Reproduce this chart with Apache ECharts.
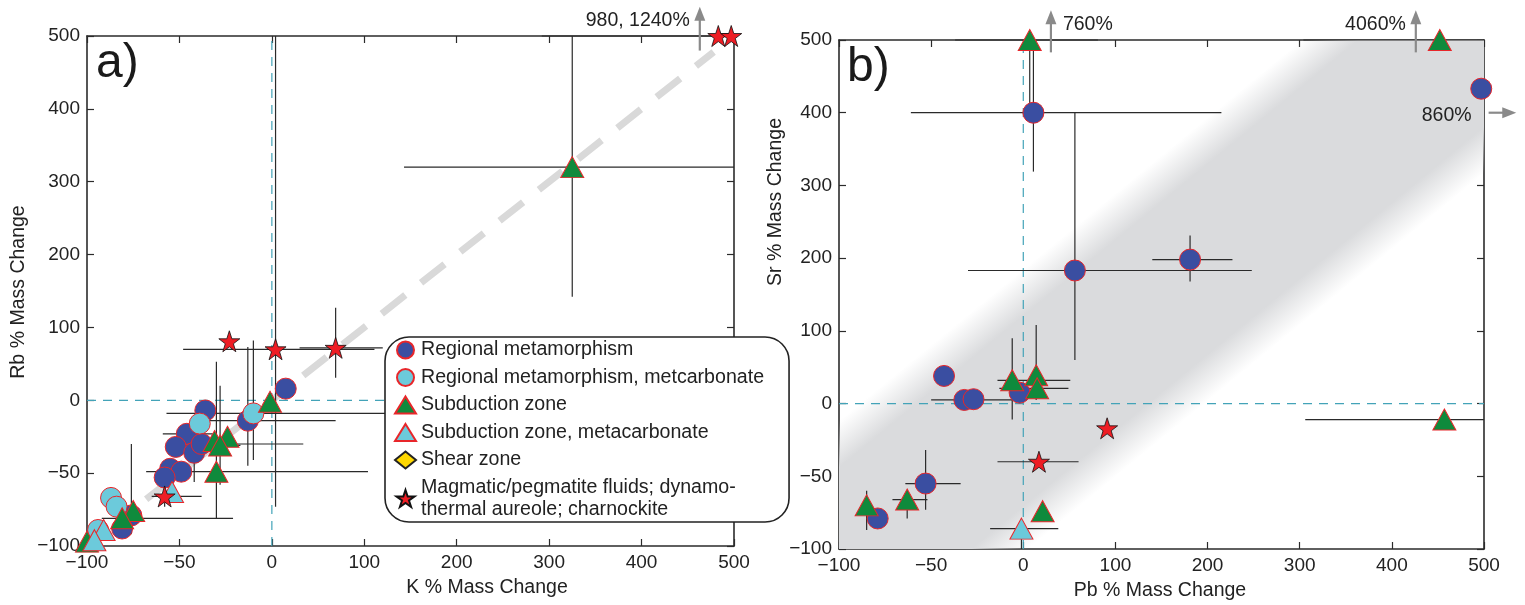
<!DOCTYPE html>
<html><head><meta charset="utf-8">
<script src="https://cdn.jsdelivr.net/npm/echarts@6/dist/echarts.min.js"></script>
<style>html,body{margin:0;padding:0;background:#fff}#c{width:1525px;height:605px}</style>
</head><body><div id="c"></div>
<script>
// ---------------- DATA ----------------
// Tick values (real % change); negative side is drawn at double scale
const tickValues = [-100, -50, 0, 100, 200, 300, 400, 500];
const seriesNames = ['Regional metamorphism', 'Regional metamorphism, metcarbonate', 'Subduction zone',
  'Subduction zone, metacarbonate', 'Shear zone', 'Magmatic/pegmatite fluids; dynamo-\nthermal aureole; charnockite'];

// Panel a: K % (x) vs Rb % (y)
const aRegional = [[15,16],[-36,-7],[-46,-23],[-52,-32],[-42,-36],[-38,-30],[-55,-47],[-49,-49],[-58,-53],[-13,-14],[-76,-79],[-81,-88]];
const aRegionalCarb = [[-10,-9],[-39,-16],[-87,-67],[-84,-73],[-94,-89]];
const aSubduction = [[-1,-1],[-24,-25],[-31,-28],[-28,-31],[-30,-49],[-75,-76],[-81,-81],[-100,-97],[325,320]];
const aSubductionCarb = [[-54,-63],[-91,-89],[-96,-96]];
const aShear = [];
const aMagmatic = [[-23,81],[4,70],[69,72],[-58,-66],[483,500],[497,500]];
// error bars: [x, y, xLow, xHigh, yLow, yHigh]
const aErr = [
  [4,70,-48,111,-73,600],[69,72,30,120,31,127],[-58,-66,-65,-38,-73,-61],[490,500,292,600,null,null],
  [325,320,143,600,142,600],[-13,-14,-34,69,-45,73],[-10,-9,-57,150,-41,82],[-46,-23,-59,-32,null,null],
  [-42,-36,null,null,-56,-20],[-38,-30,-54,34,null,null],[-28,-31,-50,-17,-58,20],[-30,-49,-68,104,-81,53],
  [-81,-81,-92,-21,null,null],[-76,-79,null,null,-92,-30]
];
const aTrend = [[-68,-68],[478,478]];

// Panel b: Pb % (x) vs Sr % (y)
const bRegional = [[11,400],[56,183],[181,198],[497,433],[-43,38],[-32,5],[-27,6],[-2,15],[-53,-55],[-79,-79]];
const bRegionalCarb = [];
const bSubduction = [[7,500],[452,500],[-6,32],[14,39],[15,21],[-85,-70],[-63,-66],[21,-74],[457,-11]];
const bSubductionCarb = [[-1,-86]];
const bShear = [];
const bMagmatic = [[91,-17],[17,-40]];
const bErr = [
  [11,400,-61,215,319,500],[56,183,-30,248,60,401],[181,198,140,227,168,231],[7,500,-37,81,400,600],
  [452,500,304,600,null,null],[457,-11,306,600,null,null],[-1,-86,-18,38,-100,-80],[17,-40,-14,60,null,null],
  [-53,-55,-64,-34,-73,-32],[-6,32,-14,51,-11,90],[14,39,null,null,5,108],[15,21,-13,49,null,null],
  [-30,5,-50,-5,null,null],[-85,-70,null,null,-87,-60],[-63,-66,-71,-52,-79,-60]
];
// shaded band: two parallel edges, [x, y] end points
const bBandUpper = [[-100,-28],[333,500]];
const bBandLower = [[-13,-100],[500,362]];

// off-scale annotations: [x, y0, y1, label] vertical arrows / [y, x0, x1, label] horizontal
const aArrowUp = [[463,480,540,'980, 1240%']];
const bArrowUp = [[30,483,541,'760%'],[426,483,541,'4060%']];
const bArrowRight = [[400,505,535,'860%']];

// ---------------- CHART ----------------
const T = v => v < 0 ? 2 * v : v;                // piecewise scale
const cT = v => T(Math.max(-100, Math.min(500, v)));
const P = a => a.map(p => [T(p[0]), T(p[1])]);
const fmt = v => { const r = v < 0 ? v / 2 : v; return r < 0 ? '\u2212' + Math.abs(r) : String(r); };
const FONT = 'Liberation Sans, Arial, Helvetica, sans-serif';
const STAR = 'path://M50,0 L61.8,35.1 L98.9,35.1 L68.9,56.8 L80.3,91.9 L50,70.2 L19.7,91.9 L31.1,56.8 L1.1,35.1 L38.2,35.1 Z';
const RED = '#e8262a';

const styles = [
  {symbol:'circle', symbolSize:21, itemStyle:{color:'#3a4ea1', borderColor:RED, borderWidth:1, opacity:1}},
  {symbol:'circle', symbolSize:21, itemStyle:{color:'#6ccadb', borderColor:RED, borderWidth:1, opacity:1}},
  {symbol:'triangle', symbolSize:[23,21], itemStyle:{color:'#0f8a3c', borderColor:RED, borderWidth:1, opacity:1}},
  {symbol:'triangle', symbolSize:[23,21], itemStyle:{color:'#6ccadb', borderColor:RED, borderWidth:1, opacity:1}},
  {symbol:'diamond', symbolSize:[18,24], itemStyle:{color:'#ffd800', borderColor:'#222', borderWidth:1, opacity:1}},
  {symbol:STAR, symbolSize:21, itemStyle:{color:'#ee1d24', borderColor:'#111', borderWidth:0.8, opacity:1}}
];

const grids = [
  {left:87, top:36, width:647, height:510},
  {left:839, top:40, width:645, height:509}
];
function ax(gi, pos, show) {
  return {type:'value', gridIndex:gi, position:pos, min:-200, max:500, interval:100,
    axisLine:{show:true, onZero:false, lineStyle:{color:'#2b2b2b', width:1.6}},
    axisTick:{show:true, inside:true, length:7, lineStyle:{color:'#2b2b2b', width:1.2}},
    axisLabel:{show:show, formatter:fmt, color:'#222', fontSize:19, fontFamily:FONT, margin:7},
    splitLine:{show:false}};
}

function errSeries(err, axi) {
  return {type:'custom', xAxisIndex:axi, yAxisIndex:axi, z:3, silent:true,
    data: err.map(e => [T(e[0]), T(e[1])]),
    renderItem: (params, api) => {
      const e = err[params.dataIndex], ch = [];
      const st = {stroke:'#2a2a2a', lineWidth:1.2};
      if (e[2] != null) {
        const p1 = api.coord([cT(e[2]), T(e[1])]), p2 = api.coord([cT(e[3]), T(e[1])]);
        ch.push({type:'line', shape:{x1:p1[0], y1:p1[1], x2:p2[0], y2:p2[1]}, style:st});
      }
      if (e[4] != null) {
        const p1 = api.coord([T(e[0]), cT(e[4])]), p2 = api.coord([T(e[0]), cT(e[5])]);
        ch.push({type:'line', shape:{x1:p1[0], y1:p1[1], x2:p2[0], y2:p2[1]}, style:st});
      }
      return {type:'group', children:ch};
    }};
}

function scatterSet(datas, axi) {
  return datas.map((d, i) => Object.assign({type:'scatter', name:seriesNames[i], xAxisIndex:axi, yAxisIndex:axi,
    data:P(d), clip:false, z:5, emphasis:{disabled:true}}, styles[i]));
}

const zeroLines = axi => ({type:'custom', xAxisIndex:axi, yAxisIndex:axi, z:2, silent:true, data:[[0,0]],
  renderItem:(params, api) => {
    const st = {stroke:'#43a3b8', lineWidth:1.2, lineDash:[9,7]};
    const a = api.coord([0,-200]), b = api.coord([0,500]), c = api.coord([-200,0]), d = api.coord([500,0]);
    return {type:'group', children:[
      {type:'line', shape:{x1:a[0], y1:a[1], x2:b[0], y2:b[1]}, style:st},
      {type:'line', shape:{x1:c[0], y1:c[1], x2:d[0], y2:d[1]}, style:st}]};
  }});

const bandSeries = {type:'custom', xAxisIndex:2, yAxisIndex:2, z:1, silent:true,
  data:[[0,0]],
  renderItem:(params, api) => {
    const u1 = api.coord(P(bBandUpper)[0]), u2 = api.coord(P(bBandUpper)[1]);
    const l1 = api.coord(P(bBandLower)[0]);
    let dx = u2[0]-u1[0], dy = u2[1]-u1[1]; const L = Math.hypot(dx, dy); dx/=L; dy/=L;
    let nx = -dy, ny = dx;
    if (nx*(l1[0]-u1[0]) + ny*(l1[1]-u1[1]) < 0) { nx=-nx; ny=-ny; }
    const w = nx*(l1[0]-u1[0]) + ny*(l1[1]-u1[1]);
    const s = 36;
    const x0 = u1[0]-nx*s/2, y0 = u1[1]-ny*s/2, x2 = u1[0]+nx*(w+s/2), y2 = u1[1]+ny*(w+s/2);
    const tot = w + s, g = 'rgba(218,219,221,1)', z = 'rgba(218,219,221,0)';
    const c0 = api.coord([-200,-200]), c1 = api.coord([500,500]);
    return {type:'rect', shape:{x:c0[0], y:c1[1], width:c1[0]-c0[0], height:c0[1]-c1[1]},
      style:{fill:{type:'linear', global:true, x:x0, y:y0, x2:x2, y2:y2,
        colorStops:[{offset:0,color:z},{offset:s/tot,color:g},{offset:1-s/tot,color:g},{offset:1,color:z}]}}};
  }};

const option = {
  animation:false,
  backgroundColor:'#fff',
  grid: grids,
  xAxis:[ax(0,'bottom',true), ax(0,'top',false), ax(1,'bottom',true), ax(1,'top',false)],
  yAxis:[ax(0,'left',true), ax(0,'right',false), ax(1,'left',true), ax(1,'right',false)],
  legend:{show:true, orient:'vertical', left:385, top:337, data:seriesNames, z:50,
    backgroundColor:'#fff', borderColor:'#222', borderWidth:1.6, borderRadius:24,
    padding:[2,25,1.5,9], itemWidth:21, itemHeight:17, itemGap:5.5, selectedMode:false,
    textStyle:{fontSize:19.6, fontFamily:FONT, color:'#222', lineHeight:22}},
  series: [
    bandSeries,
    zeroLines(0), zeroLines(2),
    {type:'line', xAxisIndex:0, yAxisIndex:0, data:P(aTrend), symbol:'none', z:1, silent:true,
      lineStyle:{color:'#d9d9d9', width:7, type:[30,20]}},
    errSeries(aErr, 0), errSeries(bErr, 2),
    ...scatterSet([aRegional, aRegionalCarb, aSubduction, aSubductionCarb, aShear, aMagmatic], 0),
    ...scatterSet([bRegional, bRegionalCarb, bSubduction, bSubductionCarb, bShear, bMagmatic], 2)
  ],
  graphic: [
    {type:'text', z:100, left:96, top:40, style:{text:'a)', font:'48px ' + FONT, fill:'#1a1a1a'}},
    {type:'text', z:100, left:847, top:44, style:{text:'b)', font:'48px ' + FONT, fill:'#1a1a1a'}},
    {type:'text', z:100, x:487, y:588, style:{text:'K % Mass Change', font:'19.5px ' + FONT, fill:'#222', align:'center', verticalAlign:'middle'}},
    {type:'text', z:100, x:1160, y:591, style:{text:'Pb % Mass Change', font:'19.5px ' + FONT, fill:'#222', align:'center', verticalAlign:'middle'}},
    {type:'text', z:100, x:19, y:292, rotation:Math.PI/2, style:{text:'Rb % Mass Change', font:'19.5px ' + FONT, fill:'#222', align:'center', verticalAlign:'middle'}},
    {type:'text', z:100, x:776, y:202, rotation:Math.PI/2, style:{text:'Sr % Mass Change', font:'19.5px ' + FONT, fill:'#222', align:'center', verticalAlign:'middle'}}
  ]
};

const chart = echarts.init(document.getElementById('c'), null, {renderer:'canvas'});
chart.setOption(option);

// arrows for off-scale values, positioned through the axes
const ARC = '#8a8a8a';
const extra = [];
function upArrow(gi, a, textLeft) {
  const p0 = chart.convertToPixel({gridIndex:gi}, [T(a[0]), a[1]]);
  const p1 = chart.convertToPixel({gridIndex:gi}, [T(a[0]), a[2]]);
  extra.push({type:'line', z:100, shape:{x1:p0[0], y1:p0[1], x2:p1[0], y2:p1[1]+10}, style:{stroke:ARC, lineWidth:2.2}});
  extra.push({type:'polygon', z:100, shape:{points:[[p1[0]-5.5,p1[1]+14],[p1[0]+5.5,p1[1]+14],[p1[0],p1[1]]]}, style:{fill:ARC}});
  extra.push({type:'text', z:100, x: textLeft ? p0[0]-10 : p0[0]+12, y:p1[1]+14,
    style:{text:a[3], font:'19.5px ' + FONT, fill:'#222', align: textLeft ? 'right' : 'left', verticalAlign:'middle'}});
}
aArrowUp.forEach(a => upArrow(0, a, true));
upArrow(1, bArrowUp[0], false);
upArrow(1, bArrowUp[1], true);
bArrowRight.forEach(a => {
  const p0 = chart.convertToPixel({gridIndex:1}, [a[1], T(a[0])]);
  const p1 = chart.convertToPixel({gridIndex:1}, [a[2], T(a[0])]);
  extra.push({type:'line', z:100, shape:{x1:p0[0], y1:p0[1], x2:p1[0]-10, y2:p1[1]}, style:{stroke:ARC, lineWidth:2.2}});
  extra.push({type:'polygon', z:100, shape:{points:[[p1[0]-14,p1[1]-5.5],[p1[0]-14,p1[1]+5.5],[p1[0],p1[1]]]}, style:{fill:ARC}});
  extra.push({type:'text', z:100, x:p0[0]-17, y:p0[1]+3, style:{text:a[3], font:'19.5px ' + FONT, fill:'#222', align:'right', verticalAlign:'middle'}});
});
chart.setOption({graphic: option.graphic.concat(extra)});
</script>
</body></html>
